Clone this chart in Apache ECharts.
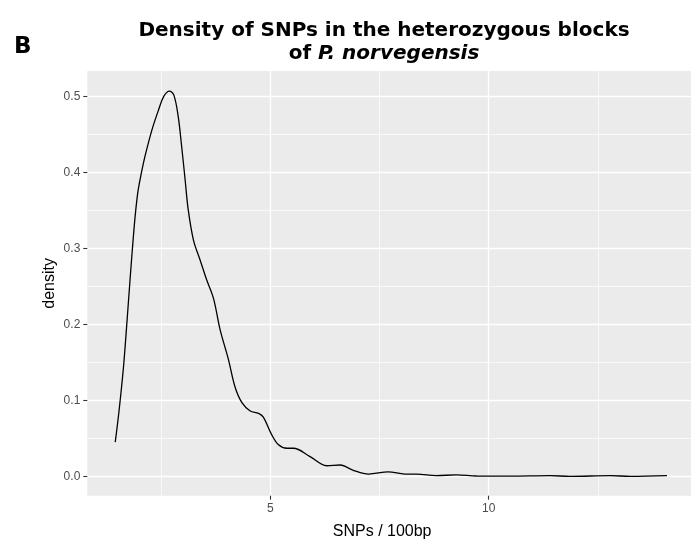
<!DOCTYPE html>
<html>
<head>
<meta charset="utf-8">
<title>Density of SNPs</title>
<script src="https://cdn.jsdelivr.net/npm/echarts@6/dist/echarts.min.js"></script>
<style>
  html, body { margin: 0; padding: 0; background: #fff; }
  #main { width: 691px; height: 539px; }
</style>
</head>
<body>
<div id="main"></div>
<script>
// density curve (SNPs per 100bp -> density)
var snpX = [1.45, 1.54, 1.64, 1.72, 1.79, 1.85, 1.91, 1.97, 2.04, 2.13, 2.29, 2.44, 2.56, 2.69, 2.79,
            2.89, 2.97, 3.05, 3.12, 3.24, 3.39, 3.54, 3.70, 3.85, 4.04, 4.19, 4.35, 4.54, 4.73, 4.84,
            5.03, 5.18, 5.38, 5.53, 5.91, 6.29, 6.60, 6.90, 7.25, 7.70, 8.08, 8.35, 8.80, 9.26, 9.72,
            10.5, 11.4, 11.86, 12.78, 13.24, 14.08];
var density = [0.045, 0.088, 0.145, 0.205, 0.260, 0.305, 0.345, 0.375, 0.397, 0.421, 0.456, 0.482, 0.500, 0.507, 0.502,
               0.474, 0.434, 0.390, 0.351, 0.311, 0.285, 0.259, 0.234, 0.193, 0.154, 0.118, 0.097, 0.086, 0.083, 0.078,
               0.055, 0.042, 0.037, 0.037, 0.026, 0.014, 0.015, 0.008, 0.003, 0.006, 0.003, 0.003, 0.001, 0.002, 0.0005,
               0.0003, 0.001, 0.0, 0.001, 0.0, 0.001];

var xBreaks = [5, 10];
var xMinor = [2.5, 7.5, 12.5];
var yBreaks = [0, 0.1, 0.2, 0.3, 0.4, 0.5];
var yMinor = [0.05, 0.15, 0.25, 0.35, 0.45];

var points = [];
for (var i = 0; i < snpX.length; i++) {
    points.push([snpX[i], density[i]]);
}

var xMin = 0.81, xMax = 14.63;
var yMin = -0.0254, yMax = 0.5334;

var chart = echarts.init(document.getElementById('main'));
var option = {
    backgroundColor: '#fff',
    animation: false,
    title: [{
        text: '{a|Density of SNPs in the heterozygous blocks}\n{a|of }{b|P. norvegensis}',
        left: 379,
        top: 15,
        textAlign: 'center',
        textStyle: {
            rich: {
                a: { fontFamily: 'DejaVu Sans', fontWeight: 'bold', fontSize: 20, color: '#000', lineHeight: 22.5 },
                b: { fontFamily: 'DejaVu Sans', fontWeight: 'bold', fontStyle: 'italic', fontSize: 20, color: '#000', lineHeight: 22.5 }
            }
        }
    }, {
        text: 'B',
        left: 9,
        top: 31,
        textStyle: { fontFamily: 'DejaVu Sans', fontWeight: 'bold', fontSize: 23, color: '#000' }
    }],
    grid: {
        left: 87.3, top: 71, right: 0, bottom: 43.3,
        outerBoundsMode: 'none',
        containLabel: false,
        show: true, backgroundColor: '#EBEBEB', borderWidth: 0
    },
    xAxis: [{
        type: 'value', min: xMin, max: xMax,
        name: 'SNPs / 100bp', nameLocation: 'middle', nameGap: 28,
        nameTextStyle: { fontFamily: 'Liberation Sans', fontSize: 16, color: '#000', padding: [0, 14, 0, 0] },
        axisLine: { show: false, onZero: false },
        axisTick: { show: true, length: 4, customValues: xBreaks, lineStyle: { color: '#333', width: 1.1 } },
        axisLabel: { customValues: xBreaks, margin: 7, fontFamily: 'Liberation Sans', fontSize: 12, color: '#4D4D4D' },
        splitLine: { show: true, lineStyle: { color: '#fff', width: 1.3 } }
    }, {
        type: 'value', min: xMin, max: xMax, position: 'bottom',
        axisLine: { show: false, onZero: false },
        axisTick: { show: false, customValues: xMinor },
        axisLabel: { show: false },
        splitLine: { show: true, lineStyle: { color: '#fff', width: 0.7 } }
    }],
    yAxis: [{
        type: 'value', min: yMin, max: yMax,
        name: 'density', nameLocation: 'middle', nameGap: 30, nameMoveOverlap: false,
        nameTextStyle: { fontFamily: 'Liberation Sans', fontSize: 16, color: '#000' },
        axisLine: { show: false, onZero: false },
        axisTick: { show: true, length: 4, customValues: yBreaks, lineStyle: { color: '#333', width: 1.1 } },
        axisLabel: {
            customValues: yBreaks, margin: 7, fontFamily: 'Liberation Sans', fontSize: 12, color: '#4D4D4D',
            formatter: function (v) { return v.toFixed(1); }
        },
        splitLine: { show: true, lineStyle: { color: '#fff', width: 1.3 } }
    }, {
        type: 'value', min: yMin, max: yMax, position: 'left',
        axisLine: { show: false, onZero: false },
        axisTick: { show: false, customValues: yMinor },
        axisLabel: { show: false },
        splitLine: { show: true, lineStyle: { color: '#fff', width: 0.7 } }
    }],
    series: [{
        type: 'line',
        data: points,
        smooth: 0.35,
        showSymbol: false,
        lineStyle: { color: '#000', width: 1.3 },
        z: 5
    }]
};
chart.setOption(option);
</script>
</body>
</html>
